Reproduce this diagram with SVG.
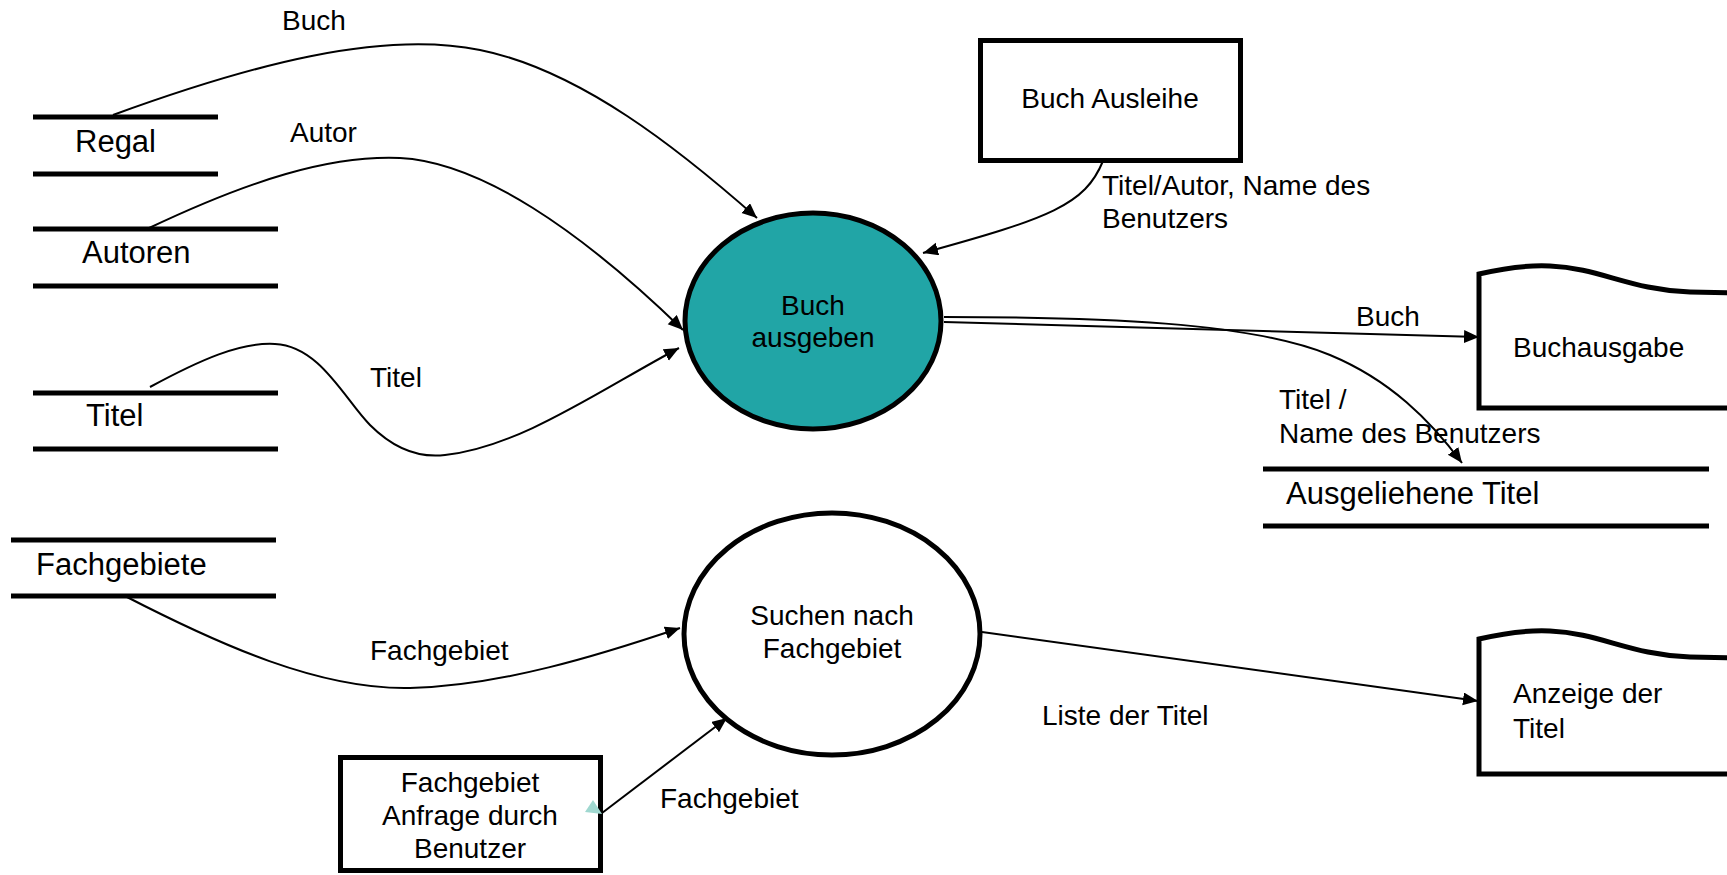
<svg xmlns="http://www.w3.org/2000/svg" width="1727" height="875" viewBox="0 0 1727 875">
<style>
text{font-family:"Liberation Sans",Arial,sans-serif;fill:#000}
.lbl{font-size:28px}
.st{font-size:31px}
.mid{text-anchor:middle}
.store{stroke:#000;stroke-width:5;fill:none}
.box{stroke:#000;stroke-width:5;fill:#fff}
.conn{stroke:#000;stroke-width:2;fill:none}
.arr{marker-end:url(#ah)}
</style>
<defs>
<marker id="ah" markerUnits="userSpaceOnUse" markerWidth="16" markerHeight="14" refX="15" refY="6.5" orient="auto">
<path d="M0,0 L15,6.5 L0,13 z" fill="#000"/>
</marker>
</defs>
<rect width="1727" height="875" fill="#fff"/>

<g id="store-regal">
<line class="store" x1="33" y1="117" x2="218" y2="117"/>
<line class="store" x1="33" y1="174" x2="218" y2="174"/>
<text class="st" x="75" y="152">Regal</text>
</g>
<g id="store-autoren">
<line class="store" x1="33" y1="229" x2="278" y2="229"/>
<line class="store" x1="33" y1="286" x2="278" y2="286"/>
<text class="st" x="82" y="263">Autoren</text>
</g>
<g id="store-titel">
<line class="store" x1="33" y1="393" x2="278" y2="393"/>
<line class="store" x1="33" y1="449" x2="278" y2="449"/>
<text class="st" x="86" y="426">Titel</text>
</g>
<g id="store-fachgebiete">
<line class="store" x1="11" y1="540" x2="276" y2="540"/>
<line class="store" x1="11" y1="596" x2="276" y2="596"/>
<text class="st" x="36" y="575">Fachgebiete</text>
</g>
<g id="store-ausgeliehen">
<line class="store" x1="1263" y1="469" x2="1709" y2="469"/>
<line class="store" x1="1263" y1="526" x2="1709" y2="526"/>
<text class="st" x="1286" y="504">Ausgeliehene Titel</text>
</g>

<g id="proc-buch-ausgeben">
<ellipse cx="813" cy="321" rx="128" ry="108" fill="#21A5A6" stroke="#000" stroke-width="5"/>
<text class="lbl mid" x="813" y="315">Buch</text>
<text class="lbl mid" x="813" y="347">ausgeben</text>
</g>
<g id="proc-suchen">
<ellipse cx="832" cy="634" rx="148" ry="121" fill="#fff" stroke="#000" stroke-width="5"/>
<text class="lbl mid" x="832" y="625">Suchen nach</text>
<text class="lbl mid" x="832" y="658">Fachgebiet</text>
</g>

<g id="ext-buch-ausleihe">
<rect class="box" x="980.5" y="40.5" width="260" height="120"/>
<text class="lbl mid" x="1110" y="108">Buch Ausleihe</text>
</g>
<g id="ext-fachgebiet-anfrage">
<rect class="box" x="340.5" y="757.5" width="260" height="113"/>
<text class="lbl mid" x="470" y="792">Fachgebiet</text>
<text class="lbl mid" x="470" y="825">Anfrage durch</text>
<text class="lbl mid" x="470" y="858">Benutzer</text>
</g>
<g id="doc-buchausgabe">
<path class="box" d="M1479,408 L1479,274 C1505,268 1530,265 1550,266 C1600,268 1630,290 1690,292 L1740,293 L1740,408 Z"/>
<text class="lbl" x="1513" y="357">Buchausgabe</text>
</g>
<g id="doc-anzeige">
<path class="box" d="M1479,774 L1479,639 C1505,633 1530,630 1550,631 C1600,633 1630,655 1690,657 L1740,658 L1740,774 Z"/>
<text class="lbl" x="1513" y="703">Anzeige der</text>
<text class="lbl" x="1513" y="738">Titel</text>
</g>

<g id="connectors">
<path class="conn arr" d="M113,115 C250,65 380,30 480,50 C580,70 680,150 757,218"/>
<path class="conn arr" d="M147,229 C250,180 330,155 400,158 C480,162 580,230 683,330"/>
<path class="conn arr" d="M150,387 C200,360 240,342 275,344 C320,346 345,400 370,425 C395,450 420,458 445,455 C520,447 600,390 679,348"/>
<path class="conn arr" d="M1103,161 C1085,205 1050,218 923,253"/>
<path class="conn arr" d="M944,322 L1479,337"/>
<path class="conn arr" d="M944,317 C1100,317 1250,322 1330,355 C1390,380 1430,420 1462,463"/>
<path class="conn arr" d="M125,596 C220,645 320,690 410,688 C500,686 600,655 680,628"/>
<path class="conn arr" d="M602,813 L727,718"/>
<polygon points="585,812 593,800 602,814" fill="#A0D8D0"/>
<path class="conn arr" d="M982,632 L1478,701"/>
<text class="lbl" x="282" y="30">Buch</text>
<text class="lbl" x="290" y="142">Autor</text>
<text class="lbl" x="370" y="387">Titel</text>
<text class="lbl" x="1102" y="195">Titel/Autor, Name des</text>
<text class="lbl" x="1102" y="228">Benutzers</text>
<text class="lbl" x="1356" y="326">Buch</text>
<text class="lbl" x="1279" y="409">Titel /</text>
<text class="lbl" x="1279" y="443">Name des Benutzers</text>
<text class="lbl" x="370" y="660">Fachgebiet</text>
<text class="lbl" x="660" y="808">Fachgebiet</text>
<text class="lbl" x="1042" y="725">Liste der Titel</text>
</g>
</svg>
